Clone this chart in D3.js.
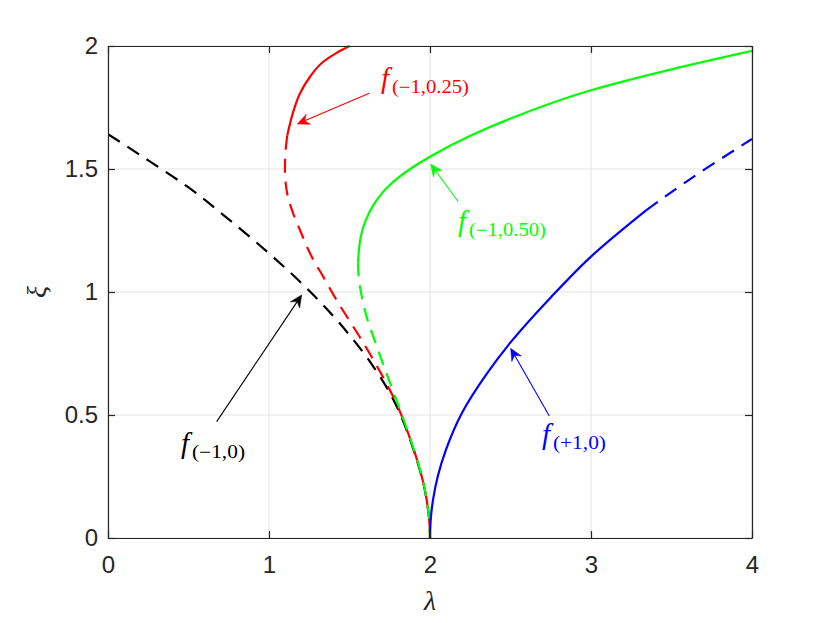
<!DOCTYPE html>
<html><head><meta charset="utf-8">
<script src="https://cdn.jsdelivr.net/npm/d3@7"></script>
<style>body{margin:0;background:#fff}</style>
</head><body>
<svg id="c" width="830" height="623"></svg>
<script>
// ---------- data ----------
const xTicks = [0, 1, 2, 3, 4];
const xTickLabels = ["0", "1", "2", "3", "4"];
const yTicks = [0, 0.5, 1, 1.5, 2];
const yTickLabels = ["0", "0.5", "1", "1.5", "2"];

// f(-1,0) : all dashed  [lambda, xi]
const blackDashed = [[0,1.642],[0.25,1.535],[0.5,1.425],[0.75,1.295],[1.0,1.157],[1.25,1.005],[1.5,0.825],[1.65,0.695],[1.75,0.59],[1.824,0.49],[1.876,0.4],[1.924,0.305],[1.96,0.22],[1.985,0.13],[1.997,0.058],[2.0,0]];
// f(-1,0.25)
const redSolid = [[1.5,2.0],[1.42,1.972],[1.337,1.936],[1.255,1.875],[1.193,1.808],[1.151,1.733],[1.113,1.635]];
const redDashed = [[1.113,1.635],[1.102,1.565],[1.099,1.5],[1.104,1.44],[1.12,1.38],[1.15,1.32],[1.2,1.24],[1.26,1.15],[1.337,1.062],[1.42,0.967],[1.503,0.88],[1.575,0.805],[1.637,0.737],[1.71,0.652],[1.772,0.574],[1.828,0.49],[1.878,0.4],[1.925,0.305],[1.96,0.22],[1.985,0.13],[1.997,0.058],[2.0,0]];
// f(-1,0.50)
const greenSolid = [[4.0,1.98],[3.5,1.905],[3.0,1.82],[2.5,1.705],[2.25,1.635],[2.0,1.55],[1.9,1.51],[1.75,1.435],[1.65,1.355],[1.6,1.29],[1.57,1.225],[1.557,1.16],[1.553,1.12]];
const greenDashed = [[1.553,1.12],[1.556,1.07],[1.565,1.022],[1.585,0.955],[1.606,0.9],[1.658,0.8],[1.71,0.705],[1.772,0.595],[1.826,0.5],[1.879,0.4],[1.926,0.305],[1.961,0.22],[1.985,0.13],[1.997,0.058],[2.0,0]];
// f(+1,0)
const blueSolid = [[2.0,0],[2.005,0.08],[2.02,0.16],[2.05,0.255],[2.1,0.36],[2.2,0.51],[2.35,0.665],[2.5,0.795],[2.75,0.978],[3.0,1.144],[3.344,1.333]];
const blueDashed = [[3.344,1.333],[3.6,1.452],[4.0,1.622]];

const seriesList = [
  {pts: blackDashed, color: "#000000", dash: true},
  {pts: redSolid, color: "#ff0000", dash: false},
  {pts: redDashed, color: "#ff0000", dash: true},
  {pts: greenSolid, color: "#00ff00", dash: false},
  {pts: greenDashed, color: "#00ff00", dash: true},
  {pts: blueSolid, color: "#0000ff", dash: false},
  {pts: blueDashed, color: "#0000ff", dash: true}
];

// annotations (data coords)
const labelSubs = ["(\u22121,0.25)", "(\u22121,0.50)", "(\u22121,0)", "(+1,0)"];
const labelColors = ["#ff0000", "#00ff00", "#000000", "#0000ff"];
const arrowTails = [[1.623,1.808],[2.176,1.367],[0.675,0.473],[2.741,0.496]];
const arrowTips = [[1.176,1.683],[2.004,1.52],[1.203,0.988],[2.501,0.771]];
const labelAnchors = [[1.683,1.829],[2.161,1.248],[0.441,0.346],[2.683,0.382]];
const subWidths = [77, 77, 53, 53];

// ---------- layout ----------
const svg = d3.select("#c");
const L = 108, R = 752, T = 46, B = 538;
const x = d3.scaleLinear().domain([0,4]).range([L,R]);
const y = d3.scaleLinear().domain([0,2]).range([B,T]);
const axisColor = "#262626";

svg.append("rect").attr("width",830).attr("height",623).attr("fill","#fff");

// grid
const grid = svg.append("g");
grid.selectAll(".gx").data(xTicks).join("line")
  .attr("x1",d=>x(d)).attr("x2",d=>x(d)).attr("y1",T).attr("y2",B)
  .attr("stroke","#e3e3e3").attr("stroke-width",1);
grid.selectAll(".gy").data(yTicks).join("line")
  .attr("y1",d=>y(d)).attr("y2",d=>y(d)).attr("x1",L).attr("x2",R)
  .attr("stroke","#e3e3e3").attr("stroke-width",1);

// curves
svg.append("clipPath").attr("id","clip").append("rect")
  .attr("x",L).attr("y",T-1).attr("width",R-L).attr("height",B-T+1);
const line = d3.line().x(d=>x(d[0])).y(d=>y(d[1])).curve(d3.curveMonotoneY);
const cg = svg.append("g").attr("clip-path","url(#clip)");
seriesList.forEach(s=>{
  cg.append("path").attr("d",line(s.pts)).attr("fill","none")
    .attr("stroke",s.color).attr("stroke-width",2.2)
    .attr("stroke-dasharray", s.dash ? "14,9" : null);
});

// axes
function styleAxis(g){
  g.selectAll("path.domain").attr("stroke",axisColor).attr("stroke-width",1.2);
  g.selectAll(".tick line").attr("stroke",axisColor).attr("stroke-width",1.2);
  g.selectAll("text").attr("fill",axisColor).attr("font-family","'Liberation Sans', Arial, sans-serif").attr("font-size",24);
}
const ax = svg.append("g").attr("transform",`translate(0,${B})`)
  .call(d3.axisBottom(x).tickValues(xTicks).tickFormat((d,i)=>xTickLabels[i]).tickSizeInner(-7).tickSizeOuter(0).tickPadding(18));
styleAxis(ax);
const ay = svg.append("g").attr("transform",`translate(${L},0)`)
  .call(d3.axisLeft(y).tickValues(yTicks).tickFormat((d,i)=>yTickLabels[i]).tickSizeInner(-7).tickSizeOuter(0).tickPadding(10));
styleAxis(ay);
const at = svg.append("g").attr("transform",`translate(0,${T})`)
  .call(d3.axisTop(x).tickValues(xTicks).tickFormat("").tickSizeInner(-7).tickSizeOuter(0));
styleAxis(at);
const ar = svg.append("g").attr("transform",`translate(${R},0)`)
  .call(d3.axisRight(y).tickValues(yTicks).tickFormat("").tickSizeInner(-7).tickSizeOuter(0));
styleAxis(ar);

// axis labels
svg.append("text").attr("x",x(2)).attr("y",610).attr("text-anchor","middle")
  .attr("font-family","'Liberation Serif', 'DejaVu Serif', serif").attr("font-style","italic")
  .attr("font-size",28).attr("fill",axisColor).text("\u03bb");
svg.append("text").attr("transform",`translate(46,${y(1)}) rotate(-90)`).attr("text-anchor","middle")
  .attr("font-family","'Liberation Serif', 'DejaVu Serif', serif").attr("font-style","italic")
  .attr("font-size",28).attr("fill",axisColor).text("\u03be");

// annotations
const ag = svg.append("g");
labelSubs.forEach((sub,i)=>{
  const c = labelColors[i];
  const x0 = x(arrowTails[i][0]), y0 = y(arrowTails[i][1]);
  const x1 = x(arrowTips[i][0]), y1 = y(arrowTips[i][1]);
  const th = Math.atan2(y1-y0, x1-x0);
  const back = 8;
  ag.append("line").attr("x1",x0).attr("y1",y0)
    .attr("x2",x1-back*Math.cos(th)).attr("y2",y1-back*Math.sin(th))
    .attr("stroke",c).attr("stroke-width",1.1);
  ag.append("path").attr("d","M0,0L-12,-5.5L-8,0L-12,5.5Z")
    .attr("transform",`translate(${x1},${y1}) rotate(${th*180/Math.PI})`)
    .attr("fill",c).attr("stroke",c).attr("stroke-width",0.5);
  const lx = x(labelAnchors[i][0]), ly = y(labelAnchors[i][1]);
  ag.append("text").attr("x",lx+2).attr("y",ly)
    .attr("font-family","'Liberation Serif', 'DejaVu Serif', serif").attr("font-style","italic")
    .attr("font-size",29).attr("fill",c).text("f");
  ag.append("text").attr("x",lx+13).attr("y",ly+5)
    .attr("font-family","'Liberation Serif', 'DejaVu Serif', serif")
    .attr("font-size",18).attr("fill",c)
    .attr("textLength",subWidths[i]).attr("lengthAdjust","spacingAndGlyphs")
    .text(sub);
});
</script>
</body></html>
